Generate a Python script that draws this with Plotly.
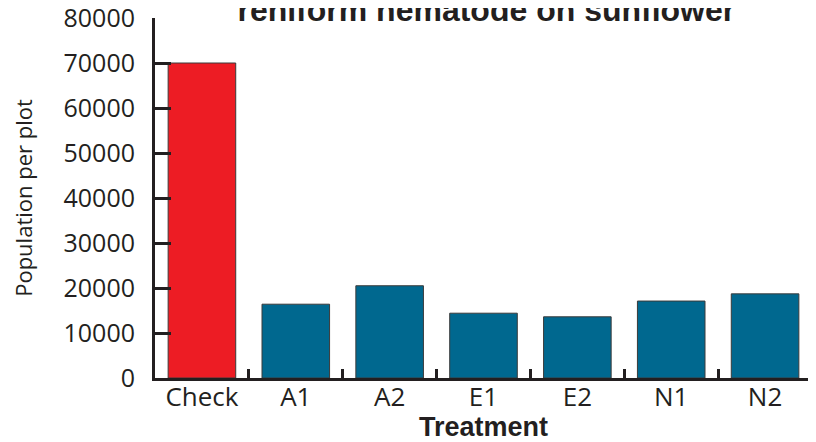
import plotly.graph_objects as go

treatments = ["Check", "A1", "A2", "E1", "E2", "N1", "N2"]
population = [70000, 16400, 20500, 14400, 13600, 17100, 18700]
bar_colors = ["#ed1c24", "#00688f", "#00688f", "#00688f", "#00688f", "#00688f", "#00688f"]
y_ticks = [0, 10000, 20000, 30000, 40000, 50000, 60000, 70000, 80000]

txt = "#231f20"

# The page body adds an 8px margin, so the figure is 8px smaller than the window.
fig = go.Figure(go.Bar(
    x=treatments, y=population,
    marker=dict(color=bar_colors, line=dict(color="#3a3a3a", width=1)),
))

fig.update_layout(
    width=808, height=434,
    margin=dict(l=147, r=4, t=10, b=64),
    paper_bgcolor="white", plot_bgcolor="white",
    bargap=0.28,
    showlegend=False,
    title=dict(text="<b>reniform nematode on sunflower</b>",
               font=dict(family="Liberation Sans, Arial", size=32, color=txt),
               x=0.592, xanchor="center", y=0.997, yanchor="middle", yref="container",
               automargin=False),
)

fig.update_xaxes(
    automargin=False,
    showline=True, linecolor="#231f20", linewidth=3,
    ticks="inside", ticklen=9, tickwidth=3, tickcolor="#231f20",
    tickson="boundaries",
    ticklabelstandoff=-6,
    tickfont=dict(family="Open Sans", size=26, color=txt),
    title=dict(text="<b>Treatment</b>", standoff=4,
               font=dict(family="Liberation Sans, Arial", size=27, color=txt)),
    showgrid=False, zeroline=False,
)

fig.update_yaxes(
    automargin=False,
    range=[0, 80000],
    tickvals=y_ticks, ticktext=[str(v) for v in y_ticks],
    ticklabeloverflow="allow",
    ticklabelstandoff=12,
    showline=True, linecolor="#231f20", linewidth=3,
    ticks="inside", ticklen=16, tickwidth=3, tickcolor="#231f20",
    tickfont=dict(family="Open Sans", size=25, color=txt),
    title=dict(text="Population per plot", standoff=30,
               font=dict(family="Open Sans", size=22, color=txt)),
    showgrid=False, zeroline=False,
)

fig.write_html("out.html")
